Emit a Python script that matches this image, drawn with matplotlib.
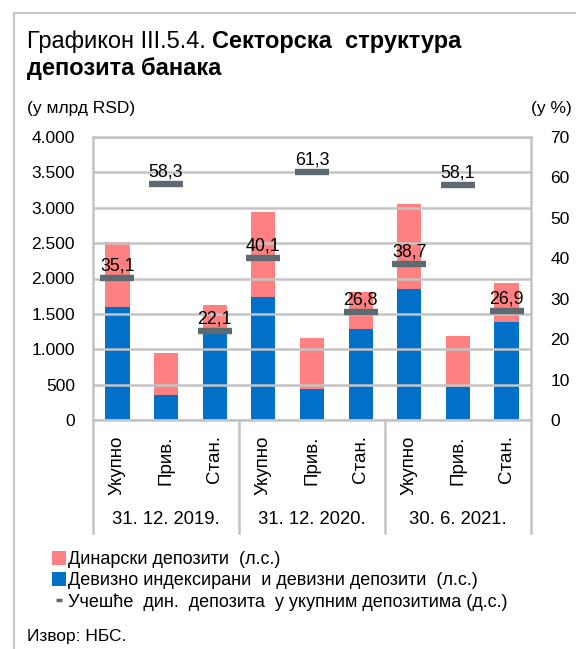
import matplotlib
matplotlib.use("Agg")
import matplotlib.pyplot as plt
import matplotlib.transforms as mtransforms
from matplotlib.patches import Patch
from matplotlib.lines import Line2D
import numpy as np

plt.rcParams['font.family'] = ['Liberation Sans', 'DejaVu Sans']

categories = ["Укупно", "Прив.", "Стан.", "Укупно", "Прив.", "Стан.", "Укупно", "Прив.", "Стан."]
groups = ["31. 12. 2019.", "31. 12. 2020.", "30. 6. 2021."]
fx_deposits = [1600, 360, 1260, 1740, 440, 1290, 1850, 470, 1390]
dinar_deposits = [920, 580, 360, 1200, 720, 520, 1200, 720, 540]
dinar_share = [35.1, 58.3, 22.1, 40.1, 61.3, 26.8, 38.7, 58.1, 26.9]
left_ticks = [0, 500, 1000, 1500, 2000, 2500, 3000, 3500, 4000]
left_tick_labels = ["0", "500", "1.000", "1.500", "2.000", "2.500", "3.000", "3.500", "4.000"]
right_ticks = [0, 10, 20, 30, 40, 50, 60, 70]

PINK = "#FF8080"
BLUE = "#0070C9"
SLATE = "#5E6A71"
GRID = "#C4C4C4"

W, H = 576, 649
fig = plt.figure(figsize=(W / 100, H / 100), dpi=100)

# outer frame lines
fig.add_artist(Line2D([14 / W, 1.0], [1 - 13 / H, 1 - 13 / H], color=GRID, lw=1.5, transform=fig.transFigure))
fig.add_artist(Line2D([14 / W, 14 / W], [1 - 13 / H, 0], color=GRID, lw=1.5, transform=fig.transFigure))

ax = fig.add_axes([93 / W, 1 - 420 / H, (531 - 93) / W, (420 - 137) / H])
x = np.arange(len(categories))
bw = 0.5
ax.bar(x, fx_deposits, width=bw, color=BLUE, zorder=2)
ax.bar(x, dinar_deposits, width=bw, bottom=fx_deposits, color=PINK, zorder=2)
ax.set_xlim(-0.5, len(categories) - 0.5)
ax.set_ylim(0, 4000)
ax.set_yticks(left_ticks)
ax.set_yticklabels(left_tick_labels)
ax.yaxis.grid(True, color=GRID, lw=1.8, zorder=3)
ax.set_axisbelow(False)
for s in ax.spines.values():
    s.set_color(GRID)
    s.set_linewidth(1.8)
ax.tick_params(axis='y', length=0, labelsize=12.5, pad=13, colors='black')
ax.set_xticks(x)
ax.set_xticklabels(categories, rotation=90, va='top', ha='center')
ax.tick_params(axis='x', length=0, labelsize=13.5, pad=11)

ax2 = ax.twinx()
ax2.set_ylim(0, 70)
ax2.set_yticks(right_ticks)
ax2.tick_params(axis='y', length=0, labelsize=12.5, pad=14)
for s in ax2.spines.values():
    s.set_visible(False)
ax2.plot(x, dinar_share, linestyle='none', marker='_', markersize=24.5, mew=4.6, color=SLATE, zorder=5)
for xi, v in zip(x, dinar_share):
    ax2.annotate(f"{v:.1f}".replace('.', ','), (xi, v), xytext=(0, 2.5), textcoords='offset points',
                 ha='center', va='bottom', fontsize=12.8)

# group separators and labels
trans = mtransforms.blended_transform_factory(ax.transData, ax.transAxes)
sep_depth = -(533 - 420) / (420 - 137)
for xs in [-0.5, 2.5, 5.5, 8.5]:
    ax.add_artist(Line2D([xs, xs], [0, sep_depth], transform=trans, color=GRID, lw=1.8, clip_on=False))
for gi, g in enumerate(groups):
    ax.text(gi * 3 + 1, -(520 - 420) / (420 - 137), g, transform=trans, ha='center', va='center', fontsize=13.3)

# title
r = fig.canvas.get_renderer()
t1 = fig.text(27 / W, 1 - 48 / H, "Графикон III.5.4. ", fontsize=17, va='baseline', ha='left')
bb = t1.get_window_extent(renderer=r)
fig.text(bb.x1 / W, 1 - 48 / H, "Секторска  структура", fontsize=17, fontweight='bold', va='baseline', ha='left')
fig.text(27 / W, 1 - 75 / H, "депозита банака", fontsize=17, fontweight='bold', va='baseline', ha='left')

fig.text(27 / W, 1 - 108 / H, "(у млрд RSD)", fontsize=12.5, va='center', ha='left')
fig.text(572 / W, 1 - 108 / H, "(у %)", fontsize=12.5, va='center', ha='right')

handles = [Patch(facecolor=PINK, edgecolor='none'),
           Patch(facecolor=BLUE, edgecolor='none'),
           Line2D([], [], color=SLATE, marker='_', linestyle='none', markersize=5, mew=2.5)]
labels = ["Динарски депозити  (л.с.)",
          "Девизно индексирани  и девизни депозити  (л.с.)",
          "Учешће  дин.  депозита  у укупним депозитима (д.с.)"]
fig.legend(handles, labels, loc='upper left', bbox_to_anchor=(52 / W, 1 - 551 / H), frameon=False,
           fontsize=13, handlelength=0.75, handleheight=0.8, handletextpad=0.12, labelspacing=0.22,
           borderpad=0, borderaxespad=0, numpoints=1)

fig.text(27 / W, 1 - 636 / H, "Извор: НБС.", fontsize=12.5, va='center', ha='left')

fig.savefig("out.png", dpi=100)
